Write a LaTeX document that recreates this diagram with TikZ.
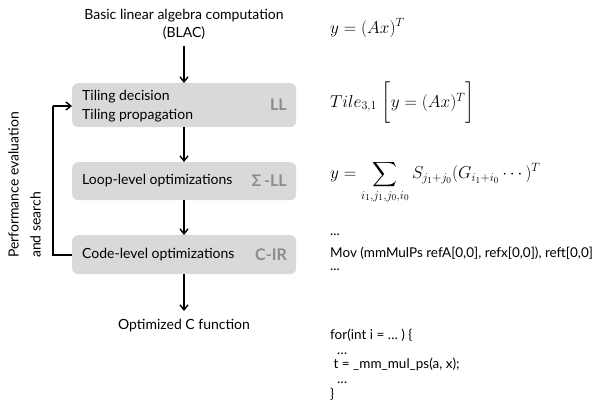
\documentclass[tikz,border=0pt]{standalone}
\usepackage{amsmath}
\usepackage{fontspec}
\setmainfont{Lato}
\usetikzlibrary{arrows.meta}
\definecolor{boxgray}{HTML}{D9D9D9}
\definecolor{taggray}{HTML}{8C8C8C}
\begin{document}
\begin{tikzpicture}[x=1pt,y=-1pt,
  stagebox/.style={draw=none,fill=boxgray,rounded corners=6pt,minimum width=224pt,anchor=north west},
  tag/.style={font=\fontsize{16}{18}\selectfont\bfseries,text=taggray,anchor=east,inner sep=0pt},
  lbl/.style={font=\fontsize{14}{16}\selectfont,anchor=west,inner sep=0pt},
  flow/.style={-{Straight Barb[length=5pt,width=8pt]},line width=1.4pt},
  mathlbl/.style={font=\fontsize{18}{20}\selectfont,anchor=west,inner sep=0pt},
  code/.style={font=\fontsize{13.5}{14.6}\selectfont,anchor=west,inner sep=0pt}]
\useasboundingbox (0,0) rectangle (616,410);
% top label
\node[font=\fontsize{14}{18}\selectfont,align=center,inner sep=0pt] (blac) at (184,24) {Basic linear algebra computation\\(BLAC)};
% boxes
\node[stagebox,minimum height=44pt] (b1) at (72,83) {};
\node[stagebox,minimum height=38pt] (b2) at (72,162) {};
\node[stagebox,minimum height=39pt] (b3) at (72,235) {};
\node[lbl] (t1a) at (82,97) {Tiling decision};
\node[lbl] (t1b) at (82,116) {Tiling propagation};
\node[tag] (g1) at (287,105) {LL};
\node[tag] (g2) at (287,181) {Σ\,-LL};
\node[lbl] (t2) at (82,181) {Loop-level optimizations};
\node[lbl] (t3) at (82,255) {Code-level optimizations};
\node[tag] (g3) at (287,255) {C-IR};
\node[font=\fontsize{14}{16}\selectfont,inner sep=0pt] (out) at (184,326) {Optimized C function};
% arrows
\coordinate (a0) at (184,46);
\coordinate (a1) at (184,311);
\draw[flow] (a0) -- (b1.north -| a0);
\draw[flow] (b1.south -| a0) -- (b2.north -| a0);
\draw[flow] (b2.south -| a0) -- (b3.north -| a0);
\draw[flow] (b3.south -| a0) -- (a1);
% feedback loop
\coordinate (lp) at (53,255);
\coordinate (lq) at (53,106);
\draw[line width=1.4pt] (b3.west |- lp) -- (lp) -- (lq);
\draw[flow] (lq) -- (b1.west |- lq);
\node[font=\fontsize{14}{22}\selectfont,align=left,rotate=90,anchor=north west,inner sep=0pt] (perf) at (8,258) {Performance evaluation\\and search};
% right column
\node[mathlbl] (m1) at (330,28) {$y = (Ax)^T$};
\node[mathlbl] (m2) at (330,103) {$Tile_{3,1}\;\biggl[y = (Ax)^T\biggr]$};
\node[mathlbl] (m3) at (330,182) {$\displaystyle y = \sum_{i_1,j_1,j_0,i_0} S_{j_1+j_0}(G_{i_1+i_0}\cdots)^T$};
\node[code] (c0) at (330,235) {...};
\node[code] (c1) at (330,253) {Mov (mmMulPs refA[0,0], refx[0,0]), reft[0,0]};
\node[code] (c2) at (330,270) {...};
\node[code,align=left,anchor=north west] (c3) at (330,329) {for(int i = … ) \{\\\ \ …\\\ t = \_mm\_mul\_ps(a, x);\\\ \ …\\\}};
\end{tikzpicture}
\end{document}
